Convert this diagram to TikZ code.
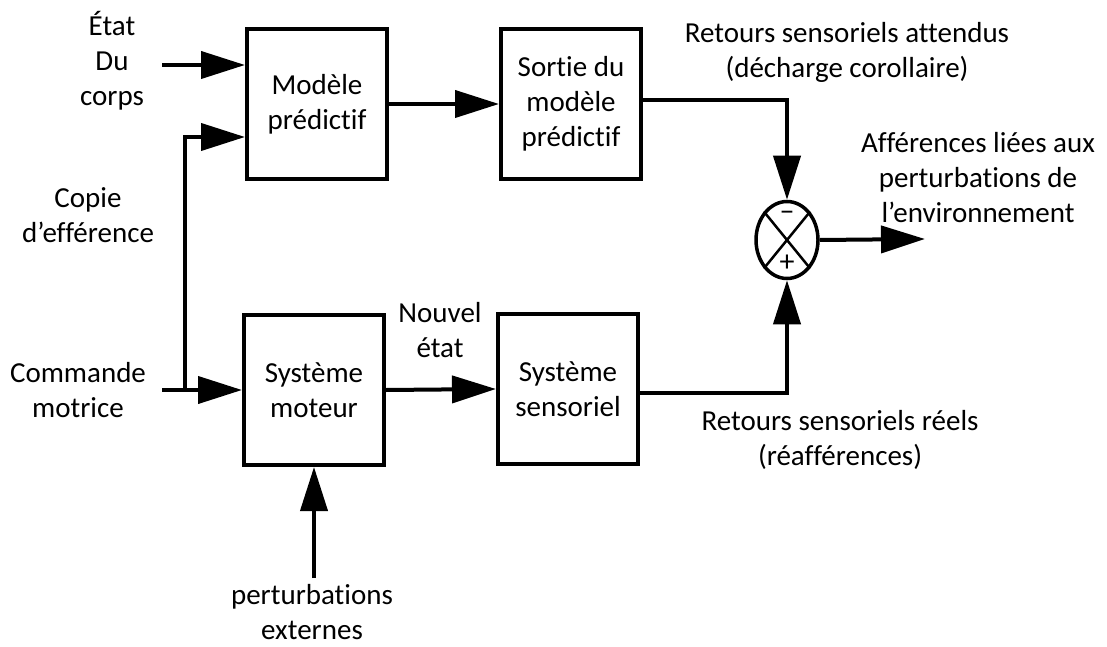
\documentclass[tikz,border=0pt]{standalone}
\usepackage{fontspec}
\setmainfont{Carlito}[Ligatures=NoCommon]
\usetikzlibrary{arrows.meta,shapes.geometric}
\newcommand\diagfont{\fontsize{29}{35}\selectfont}
\begin{document}
\begin{tikzpicture}[x=1pt,y=-1pt,
  blockbox/.style={draw,line width=4pt,minimum width=140pt,minimum height=150pt,
    align=center,inner sep=0pt,font=\diagfont},
  txt/.style={align=center,inner sep=0pt,font=\diagfont},
  sign/.style={inner sep=0pt,font=\fontsize{30}{30}\selectfont},
  flow/.style={line width=4pt,-{Triangle[length=44pt,width=27pt]}},
  crossline/.style={line width=2.5pt}]
\useasboundingbox (0,0) rectangle (1107,647);

% blocks
\node[blockbox] (model) at (317,104) {Modèle\\prédictif};
\node[blockbox] (sortie) at (571,104) {Sortie du\\modèle\\prédictif};
\node[blockbox] (moteur) at (314,390) {Système\\moteur};
\node[blockbox] (sens) at (568,389) {Système\\sensoriel};

% comparator
\node[draw,ellipse,line width=3.5pt,minimum width=62pt,minimum height=77pt,inner sep=0pt] (sum) at (787,240) {};
\draw[crossline] (sum.north west) -- (sum.south east);
\draw[crossline] (sum.north east) -- (sum.south west);
\node[sign] (minus) at (787,216) {–};
\node[sign] (plus) at (787,263) {+};

% free ends
\coordinate (etatin) at (162,65);
\coordinate (cmdin) at (162,390);
\coordinate (split) at (185,390);
\coordinate (pertin) at (314,578);
\coordinate (outend) at (925,239);

% connectors
\draw[flow] (etatin) -- ([yshift=39pt]model.west);
\draw[flow] (split) |- ([yshift=-33pt]model.west);
\draw[flow] (cmdin) -- (moteur.west);
\draw[flow] (model.east) -- (sortie.west);
\draw[flow] (moteur.east) -- (sens.west);
\draw[flow] (pertin) -- (moteur.south);
\draw[flow] ([yshift=4pt]sortie.east) -| (sum.north);
\draw[flow] ([yshift=-4pt]sens.east) -| (sum.south);
\draw[flow] (sum.east) -- (outend);

% labels
\node[txt] (etat) at (112,61) {État\\Du\\corps};
\node[txt] (copie) at (88,215) {Copie\\d’efférence};
\node[txt] (cmd) at (78,390) {Commande\\motrice};
\node[txt] (nouvel) at (440,330) {Nouvel\\état};
\node[txt] (pert) at (312,612) {perturbations\\externes};
\node[txt] (attendus) at (847,52) {Retours sensoriels attendus\\(décharge corollaire)};
\node[txt] (reels) at (840,440) {Retours sensoriels réels\\(réafférences)};
\node[txt] (aff) at (978,178) {Afférences liées aux\\perturbations de\\l’environnement};
\end{tikzpicture}
\end{document}
